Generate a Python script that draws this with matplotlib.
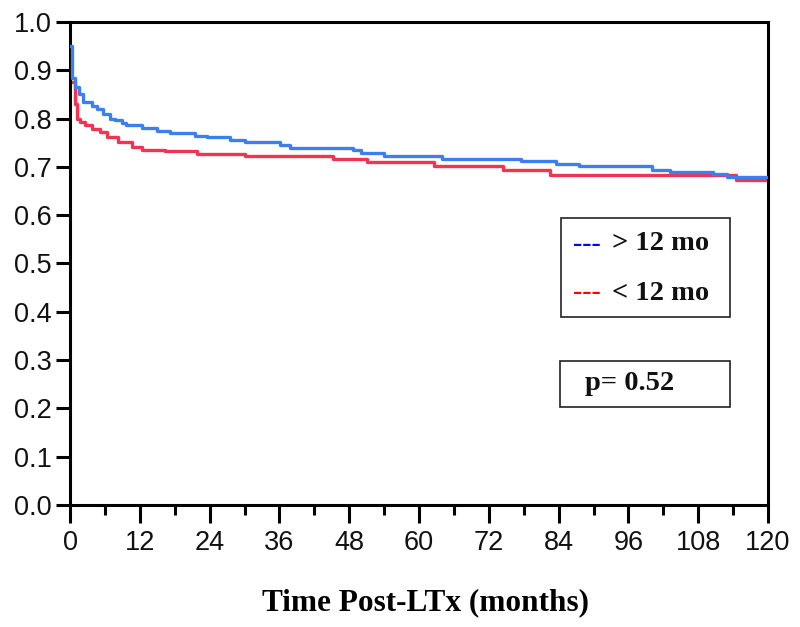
import matplotlib
matplotlib.use("Agg")
import matplotlib.pyplot as plt
from matplotlib.ticker import MultipleLocator

# Kaplan-Meier style step data (months, survival)
blue_t = [0, 0.4, 0.8, 1.5, 2.3, 3.7, 4.6, 5.7, 6.9, 7.7, 8.9, 9.7, 12.3, 14.9, 17.2,
          21.5, 23.5, 27.5, 30.1, 36.1, 37.8, 48.6, 50.1, 54.0, 63.9, 77.5, 83.5,
          87.5, 100.1, 103.1, 110.5, 113.0, 120]
blue_s = [0.95, 0.885, 0.865, 0.85, 0.835, 0.827, 0.82, 0.81, 0.80, 0.797, 0.79, 0.786,
          0.781, 0.775, 0.771, 0.765, 0.761, 0.756, 0.751, 0.745, 0.739, 0.734, 0.729,
          0.723, 0.717, 0.712, 0.707, 0.701, 0.694, 0.690, 0.685, 0.679, 0.679]

red_t = [0, 0.86, 1.26, 1.8, 2.6, 3.7, 5.2, 6.3, 8.3, 10.6, 12.3, 16.3, 21.8, 30.0,
         45.2, 51.0, 62.5, 74.4, 82.6, 114.5, 120]
red_s = [0.875, 0.83, 0.80, 0.793, 0.786, 0.779, 0.772, 0.762, 0.752, 0.742, 0.736,
         0.732, 0.727, 0.722, 0.716, 0.711, 0.701, 0.694, 0.684, 0.672, 0.672]

x_ticks = [0, 12, 24, 36, 48, 60, 72, 84, 96, 108, 120]
y_ticks = [0.0, 0.1, 0.2, 0.3, 0.4, 0.5, 0.6, 0.7, 0.8, 0.9, 1.0]
legend_labels = ["> 12 mo", "< 12 mo"]
p_text = "p= 0.52"

fig = plt.figure(figsize=(8, 6.27), dpi=100)
ax = fig.add_axes([0.0875, 0.1946, 0.8725, 0.7703])

ax.step(blue_t, blue_s, where="post", color="#3d7fef", lw=2.4, zorder=3)
ax.step(red_t, red_s, where="post", color="#f03452", lw=2.4, zorder=2)

ax.set_xlim(0, 120)
ax.set_ylim(0, 1.0)
ax.set_xticks(x_ticks)
ax.set_yticks(y_ticks)
ax.set_yticklabels([f"{v:.1f}" for v in y_ticks])
ax.xaxis.set_minor_locator(MultipleLocator(6))

for s in ax.spines.values():
    s.set_linewidth(2.2)
ax.tick_params(axis="both", which="major", direction="out", width=2.2,
               labelsize=19.5, labelcolor="#111111")
ax.tick_params(axis="x", which="major", length=13, pad=5)
ax.tick_params(axis="y", which="major", length=10, pad=3)
ax.tick_params(axis="x", which="minor", length=7, width=2.2)
for lab in ax.get_xticklabels() + ax.get_yticklabels():
    lab.set_family(["Liberation Sans", "DejaVu Sans"])

fig.text(0.532, 1 - 603 / 627, "Time Post-LTx (months)", ha="center", va="center",
         fontsize=22.5, fontweight="bold", family=["Liberation Serif", "DejaVu Serif"])

# legend box and p-value box, figure-fraction coords
box_kw = dict(transform=fig.transFigure, fill=False, lw=1.2, ec="#222222")
fig.patches.append(plt.Rectangle((0.701, 1 - 317 / 627), 0.211, 99 / 627, **box_kw))
fig.patches.append(plt.Rectangle((0.700, 1 - 407 / 627), 0.213, 46 / 627, **box_kw))

serif = ["Liberation Serif", "DejaVu Serif"]
rows = [(1 - 244 / 627, "#0000ff", legend_labels[0]),
        (1 - 293 / 627, "#ff0000", legend_labels[1])]
for yy, col, lab in rows:
    fig.text(0.716, yy, "---", color=col, fontsize=20, fontweight="bold",
             family=serif, va="center")
    fig.text(0.765, yy, lab, color="#111111", fontsize=20.5, fontweight="bold",
             family=serif, va="center")
fig.text(0.731, 1 - 384 / 627, p_text, fontsize=20.5, fontweight="bold",
         family=serif, va="center", color="#111111")

fig.savefig("out.png", dpi=100)
